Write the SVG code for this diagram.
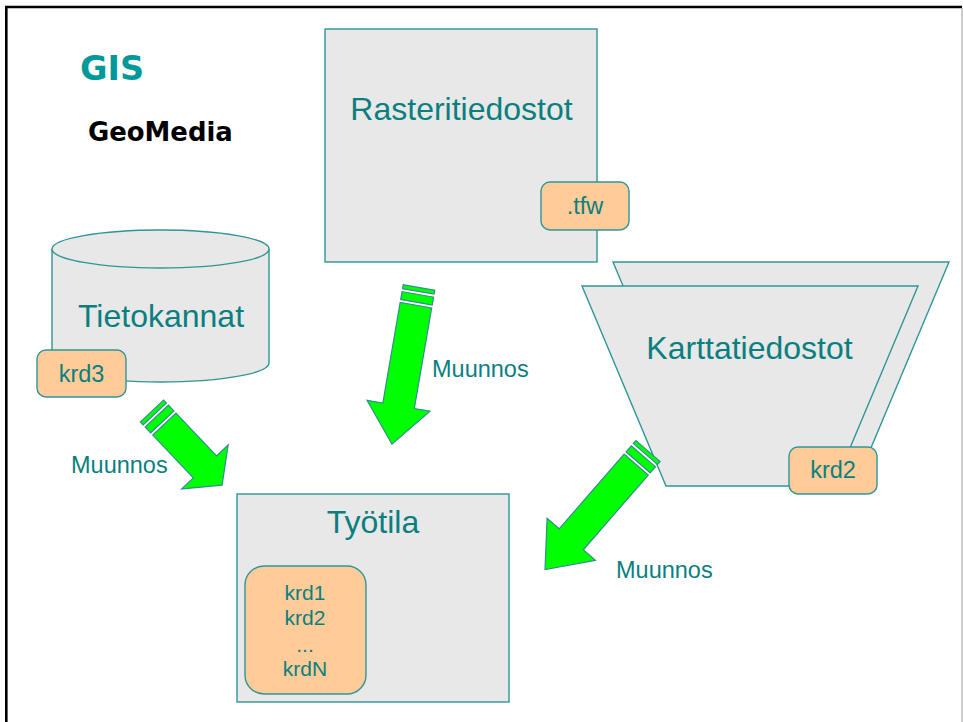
<svg xmlns="http://www.w3.org/2000/svg" width="963" height="722" viewBox="0 0 963 722">
<style>
.box{fill:#e8e8e8;stroke:#2f9696;stroke-width:1.4}
.tag{fill:#ffcc99;stroke:#2f9696;stroke-width:1.4}
.arr{fill:#00ff00;stroke:#2f8f8f;stroke-width:1.2;stroke-linejoin:miter}
.big{font-family:"Liberation Sans",Arial,sans-serif;font-size:32px;fill:#0a7f7f;text-anchor:middle}
.sm{font-family:"Liberation Sans",Arial,sans-serif;font-size:23.5px;fill:#0a7f7f}
.in{font-family:"Liberation Sans",Arial,sans-serif;font-size:21px;fill:#0a7f7f;text-anchor:middle}
</style>
<rect width="963" height="722" fill="#ffffff"/>
<path d="M6.3,722 V7 H962" fill="none" stroke="#000" stroke-width="2.6"/>
<line x1="962" y1="8" x2="962" y2="722" stroke="#bdbdbd" stroke-width="1.5"/>
<g id="title">
<text x="80" y="80" font-family="DejaVu Sans,Verdana,sans-serif" font-weight="bold" font-size="33.5" fill="#009999">GIS</text>
<text x="88" y="141" font-family="DejaVu Sans,Verdana,sans-serif" font-weight="bold" font-size="25.9" fill="#000">GeoMedia</text>
</g>
<g id="rasteritiedostot">
<rect class="box" x="325" y="29" width="272" height="233"/>
<text class="big" x="461.5" y="120">Rasteritiedostot</text>
<rect class="tag" x="541" y="182" width="88" height="48" rx="9"/>
<text class="sm" x="585" y="214" text-anchor="middle">.tfw</text>
</g>
<g id="tietokannat">
<path class="box" d="M52,249 V363 A108.5,19 0 0 0 269,363 V249"/>
<ellipse class="box" cx="160.5" cy="249" rx="108.5" ry="19"/>
<text class="big" x="161" y="327">Tietokannat</text>
<rect class="tag" x="37" y="350" width="89" height="47" rx="9"/>
<text class="sm" x="81.5" y="382" text-anchor="middle">krd3</text>
</g>
<g id="karttatiedostot">
<polygon class="box" points="613,262 949,262 865,462 697,462"/>
<polygon class="box" points="582,286 918,286 834,486 666,486"/>
<text class="big" x="749.5" y="359">Karttatiedostot</text>
<rect class="tag" x="789" y="447" width="88" height="47" rx="9"/>
<text class="sm" x="833" y="478" text-anchor="middle">krd2</text>
</g>
<g id="tyotila">
<rect class="box" x="237" y="494" width="272" height="208"/>
<text class="big" x="373" y="533">Työtila</text>
<rect class="tag" x="245" y="566" width="121" height="128" rx="19"/>
<text class="in" x="305" y="600">krd1</text>
<text class="in" x="305" y="625">krd2</text>
<text class="in" x="305" y="652">...</text>
<text class="in" x="305" y="676">krdN</text>
</g>
<g id="connectors">
<g transform="translate(152,411) rotate(46.6)">
<rect class="arr" x="0" y="-16" width="4" height="32"/>
<rect class="arr" x="7" y="-16" width="8" height="32"/>
<path class="arr" d="M18,-16 H77 V-32 L102,0 L77,32 V16 H18 Z"/>
</g>
<g transform="translate(419,287.5) rotate(99.8)">
<rect class="arr" x="0" y="-16" width="4" height="32"/>
<rect class="arr" x="7" y="-16" width="8" height="32"/>
<path class="arr" d="M18,-16 H120 V-32 L159,0 L120,32 V16 H18 Z"/>
</g>
<g transform="translate(648,451) rotate(131)">
<rect class="arr" x="0" y="-16" width="4" height="32"/>
<rect class="arr" x="7" y="-16" width="8" height="32"/>
<path class="arr" d="M18,-16 H117 V-32 L157,0 L117,32 V16 H18 Z"/>
</g>
<text class="sm" x="71" y="473">Muunnos</text>
<text class="sm" x="432" y="377">Muunnos</text>
<text class="sm" x="616" y="578">Muunnos</text>
</g>
</svg>
